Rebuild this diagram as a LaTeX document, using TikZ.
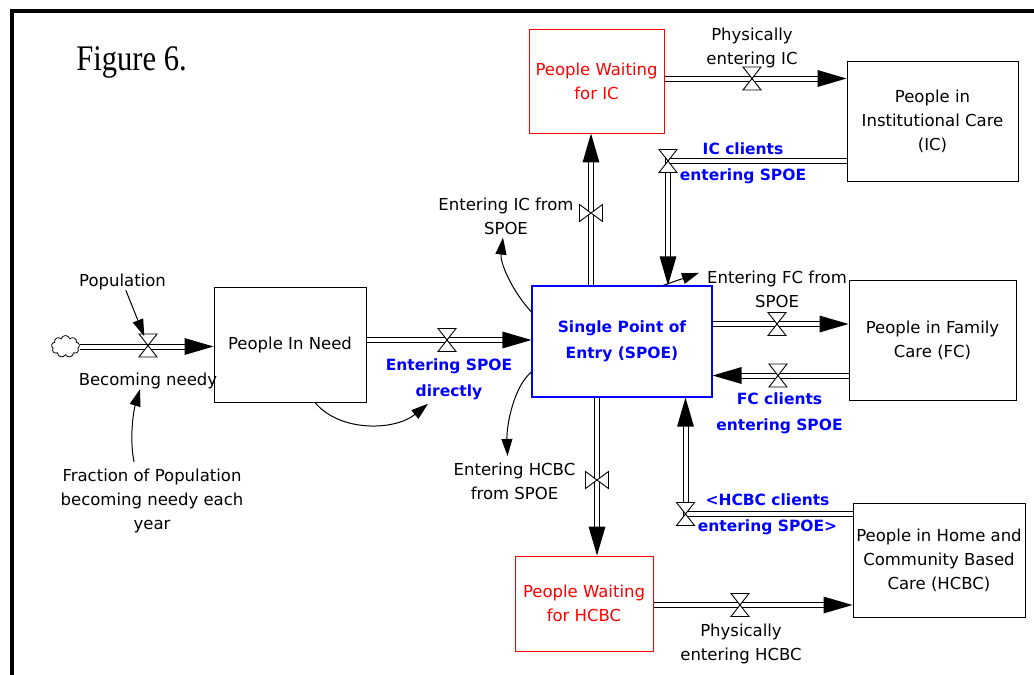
\documentclass[tikz,border=0pt]{standalone}
\usepackage{fontspec}
\setmainfont{DejaVu Sans}
\newfontfamily\titlefont[FakeStretch=0.85]{Liberation Serif}
\usetikzlibrary{arrows.meta,calc,shapes.symbols,backgrounds}
\definecolor{spoeblue}{RGB}{0,0,255}
\definecolor{waitred}{RGB}{255,0,0}
\newcommand\dgbody{\fontsize{16.5pt}{24pt}\selectfont}
\newcommand\dglabel{\fontsize{15.5pt}{26pt}\selectfont\bfseries}
% filled arrow head of a flow pipe: #1 = point behind, #2 = tip
\newcommand\flowtip[2]{\fill[black] (#2) -- ($(#2)!30.2pt!16.3:(#1)$) -- ($(#2)!30.2pt!-16.3:(#1)$) -- cycle;}
\newcommand\flow[2]{\draw[pipe, shorten >=22pt] (#1) -- (#2); \flowtip{#1}{#2}}
\newcommand\flowL[3]{\draw[pipe, shorten >=22pt] (#1) -- (#2) -- (#3); \flowtip{#2}{#3}}
\tikzset{
  stock/.style={draw, line width=1pt, inner sep=0pt, align=center, font=\dgbody},
  lbl/.style={inner sep=0pt, align=center, font=\dgbody},
  blbl/.style={inner sep=0pt, align=center, font=\dglabel, text=spoeblue},
  pipe/.style={draw=black, line width=1pt, double=white, double distance=4pt},
  link/.style={line width=1pt, -{Triangle[length=17pt,width=11pt]}},
  valvestyle/.style={draw=black, fill=white, line width=0.9pt},
  hvalve/.pic={\draw[valvestyle] (-9,-11.5) -- (9,-11.5) -- (-9,11.5) -- (9,11.5) -- cycle;},
  vvalve/.pic={\draw[valvestyle] (-11.5,-8.5) -- (-11.5,8.5) -- (11.5,-8.5) -- (11.5,8.5) -- cycle;}
}
\begin{document}
\begin{tikzpicture}[x=1pt,y=-1pt]
\useasboundingbox (0,0) rectangle (1034,675);
% frame
\draw[line width=4pt] (12,675) -- (12,11.3) -- (1034,11.3);
\node[font=\titlefont\fontsize{36pt}{36pt}\selectfont, inner sep=0pt] (title) at (131.5,62) {Figure 6.};

% stocks
\node[stock, minimum width=152pt, minimum height=115pt] (pin) at (290,344.5) {People In Need};
\node[stock, draw=spoeblue, text=spoeblue, font=\dglabel, line width=1.2pt, minimum width=180pt, minimum height=111pt] (spoe) at (622,341.5) {Single Point of\\Entry (SPOE)};
\node[stock, draw=waitred, text=waitred, minimum width=135pt, minimum height=104pt] (pwic) at (596.5,81) {People Waiting\\for IC};
\node[stock, minimum width=171pt, minimum height=120pt] (pic) at (932.5,121) {People in\\Institutional Care\\(IC)};
\node[stock, minimum width=167pt, minimum height=120pt] (pfc) at (932.5,340) {People in Family\\Care (FC)};
\node[stock, minimum width=172pt, minimum height=114pt] (phcbc) at (939,560) {People in Home and\\Community Based\\Care (HCBC)};
\node[stock, draw=waitred, text=waitred, minimum width=138pt, minimum height=95pt] (pwh) at (584,603.5) {People Waiting\\for HCBC};

% source cloud
\node[draw, cloud, cloud puffs=9, cloud ignores aspect, minimum width=28pt, minimum height=22pt, inner sep=0pt, line width=0.8pt, fill=white] (src) at (65.5,346.5) {};

% labels
\node[lbl] (lpop) at (122.5,282) {Population};
\node[lbl] (lbneedy) at (148,381) {Becoming needy};
\node[lbl] (lfrac) at (152,501) {Fraction of Population\\becoming needy each\\year};
\node[blbl] (ldirect) at (449,379) {Entering SPOE\\directly};
\node[lbl] (lphic) at (752,48) {Physically\\entering IC};
\node[blbl] (licc) at (743,163) {IC clients\\entering SPOE};
\node[lbl] (lfromic) at (506,216) {Entering IC from\\SPOE};
\node[lbl] (lfromfc) at (777,289.5) {Entering FC from\\SPOE};
\node[blbl] (lfcc) at (779.5,413.5) {FC clients\\entering SPOE};
\node[lbl] (lfromh) at (514.5,481.5) {Entering HCBC\\from SPOE};
\node[blbl] (lhcc) at (767.5,514.5) {<HCBC clients\\entering SPOE>};
\node[lbl] (lphh) at (741,644) {Physically\\entering HCBC};

% flow end points
\coordinate (f1s) at (src.east);
\coordinate (f1e) at (src.east -| pin.west);
\coordinate (f2s) at ($(pin.east)+(0,-4.5)$);
\coordinate (f2e) at (f2s -| spoe.west);
\coordinate (f3s) at ($(spoe.north)+(-31,0)$);
\coordinate (f3e) at (f3s |- pwic.south);
\coordinate (f4s) at ($(pwic.east)+(0,-2.5)$);
\coordinate (f4e) at (f4s -| pic.west);
\coordinate (f5s) at ($(pic.west)+(0,40)$);
\coordinate (f5e) at ($(spoe.north)+(46,0)$);
\coordinate (f5c) at (f5e |- f5s);
\coordinate (f6s) at ($(spoe.east)+(0,-17.5)$);
\coordinate (f6e) at (f6s -| pfc.west);
\coordinate (f7s) at ($(pfc.west)+(0,35.5)$);
\coordinate (f7e) at (f7s -| spoe.east);
\coordinate (f8s) at ($(spoe.south)+(-25,0)$);
\coordinate (f8e) at (f8s |- pwh.north);
\coordinate (f9s) at ($(phcbc.west)+(0,-46)$);
\coordinate (f9e) at ($(spoe.south)+(63.5,0)$);
\coordinate (f9c) at (f9e |- f9s);
\coordinate (f10s) at ($(pwh.east)+(0,1.5)$);
\coordinate (f10e) at (f10s -| phcbc.west);

% flow pipes
\begin{scope}[on background layer]
\flow{f1s}{f1e}
\flow{f2s}{f2e}
\flow{f3s}{f3e}
\flow{f4s}{f4e}
\flowL{f5s}{f5c}{f5e}
\flow{f6s}{f6e}
\flow{f7s}{f7e}
\flow{f8s}{f8e}
\flowL{f9s}{f9c}{f9e}
\flow{f10s}{f10e}
\end{scope}

% valves
\coordinate (v1) at (148,345.5);
\pic at (v1) {hvalve};
\pic at (447,340) {hvalve};
\pic at (591,213) {vvalve};
\pic at (752,78.5) {hvalve};
\pic at (f5c) {hvalve};
\pic at (777,324) {hvalve};
\pic at (778,375.5) {hvalve};
\pic at (597,480) {vvalve};
\pic at (f9c) {hvalve};
\pic at (740,605) {hvalve};

% information links
\draw[link, shorten >=10pt] (lpop) -- (v1);
\draw[link] ([xshift=-18pt,yshift=7pt]lfrac.north) .. controls +(-5,-25) and +(-6,20) .. ([xshift=-8pt]lbneedy.south);
\draw[link] ([xshift=25pt]pin.south) .. controls +(25,30) and +(-33,27) .. ([xshift=-21pt,yshift=-4pt]ldirect.south);
\draw[link] ([yshift=29.5pt]spoe.west) .. controls +(-20,-22) and +(-3,25) .. ([xshift=-3pt,yshift=-3pt]lfromic.south);
\draw[link] ([yshift=-30.5pt]spoe.west) .. controls +(-18,15) and +(-1,-30) .. ([xshift=-7pt,yshift=7pt]lfromh.north);
\draw[link] ([xshift=41pt]spoe.north) -- ([xshift=-8pt,yshift=-2pt]lfromfc.north west);
\end{tikzpicture}
\end{document}
